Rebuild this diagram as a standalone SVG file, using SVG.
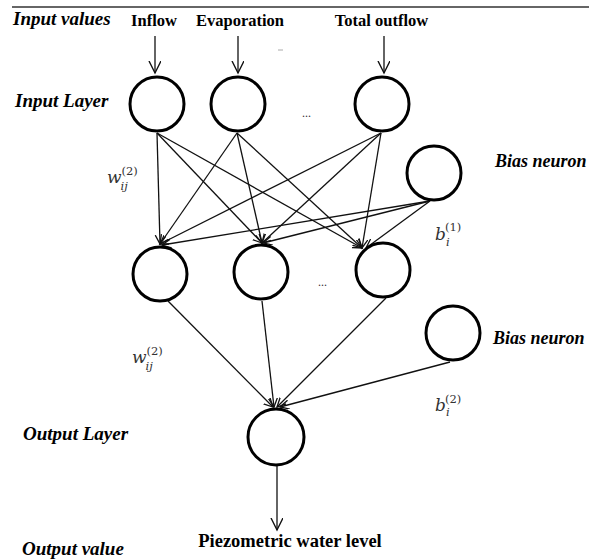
<svg xmlns="http://www.w3.org/2000/svg" width="589" height="560" viewBox="0 0 589 560">
<style>
  .node { fill: #ffffff; stroke: #000000; stroke-width: 3; }
  .conn { stroke: #111111; stroke-width: 1.3; fill: none; }
  .lbl { font-family: "Liberation Serif", "Times New Roman", serif; font-weight: bold; font-style: italic; font-size: 19px; fill: #000; }
  .bias { font-size: 18px; }
  .in { font-family: "Liberation Serif", "Times New Roman", serif; font-weight: bold; font-size: 16.5px; fill: #000; text-anchor: middle; }
  .m { font-family: "DejaVu Serif", serif; font-style: italic; font-size: 17px; fill: #333; }
  .ms { font-family: "DejaVu Serif", serif; font-size: 11.5px; fill: #333; }
  .msi { font-family: "DejaVu Serif", serif; font-style: italic; font-size: 11.5px; fill: #333; }
  .dots { font-family: "Liberation Serif", serif; font-size: 12px; fill: #333; }
</style>
<defs>
  <marker id="big" markerUnits="userSpaceOnUse" markerWidth="14" markerHeight="14" refX="12" refY="6" orient="auto">
    <path d="M0,0 L12,6 L0,12" fill="none" stroke="#111" stroke-width="1.4"/>
  </marker>
  <marker id="small" markerUnits="userSpaceOnUse" markerWidth="11" markerHeight="11" refX="9" refY="4.5" orient="auto">
    <path d="M0,0 L9,4.5 L0,9" fill="none" stroke="#111" stroke-width="1.3"/>
  </marker>
</defs>
<rect width="589" height="560" fill="#ffffff"/>
<line x1="12" y1="7" x2="589" y2="7" stroke="#333" stroke-width="1.5"/>
<line x1="278" y1="50" x2="283" y2="50" stroke="#aaa" stroke-width="1"/>

<g id="connectors">
  <line class="conn" x1="155" y1="36" x2="155" y2="73" marker-end="url(#big)"/>
  <line class="conn" x1="238" y1="36" x2="238" y2="73" marker-end="url(#big)"/>
  <line class="conn" x1="384" y1="36" x2="384" y2="73" marker-end="url(#big)"/>
  <line class="conn" x1="157" y1="133" x2="160" y2="244" marker-end="url(#small)"/>
  <line class="conn" x1="157" y1="133" x2="262" y2="243" marker-end="url(#small)"/>
  <line class="conn" x1="157" y1="133" x2="362" y2="248" marker-end="url(#small)"/>
  <line class="conn" x1="237" y1="133" x2="160" y2="244" marker-end="url(#small)"/>
  <line class="conn" x1="237" y1="133" x2="262" y2="243" marker-end="url(#small)"/>
  <line class="conn" x1="237" y1="133" x2="362" y2="248" marker-end="url(#small)"/>
  <line class="conn" x1="381" y1="133" x2="160" y2="244" marker-end="url(#small)"/>
  <line class="conn" x1="381" y1="133" x2="262" y2="243" marker-end="url(#small)"/>
  <line class="conn" x1="381" y1="133" x2="362" y2="248" marker-end="url(#small)"/>
  <line class="conn" x1="430" y1="201" x2="162" y2="245" marker-end="url(#small)"/>
  <line class="conn" x1="430" y1="201" x2="263" y2="243" marker-end="url(#small)"/>
  <line class="conn" x1="430" y1="201" x2="366" y2="248" marker-end="url(#small)"/>
  <line class="conn" x1="168" y1="301" x2="273" y2="407" marker-end="url(#small)"/>
  <line class="conn" x1="262" y1="301" x2="274" y2="407" marker-end="url(#small)"/>
  <line class="conn" x1="386" y1="298" x2="277" y2="407" marker-end="url(#small)"/>
  <line class="conn" x1="450" y1="362" x2="280" y2="407" marker-end="url(#small)"/>
  <line class="conn" x1="277" y1="466" x2="277" y2="530" marker-end="url(#big)"/>
</g>

<g id="in1"><circle class="node" cx="157" cy="104" r="27"/></g>
<g id="in2"><circle class="node" cx="238" cy="104" r="27"/></g>
<g id="in3"><circle class="node" cx="382" cy="104" r="27"/></g>
<g id="bias1"><circle class="node" cx="434" cy="173" r="27"/></g>
<g id="h1"><circle class="node" cx="160" cy="274" r="27"/></g>
<g id="h2"><circle class="node" cx="261" cy="272" r="27"/></g>
<g id="h3"><circle class="node" cx="383" cy="270" r="27"/></g>
<g id="bias2"><circle class="node" cx="453" cy="333" r="27"/></g>
<g id="out"><circle class="node" cx="276" cy="437" r="28"/></g>

<g id="labels">
  <text class="lbl" x="13" y="25">Input values</text>
  <text class="lbl" x="15" y="107">Input Layer</text>
  <text class="lbl bias" x="495" y="167">Bias neuron</text>
  <text class="lbl bias" x="493" y="344">Bias neuron</text>
  <text class="lbl" x="23" y="440">Output Layer</text>
  <text class="lbl" x="22" y="555">Output value</text>
  <text class="in" x="154" y="26">Inflow</text>
  <text class="in" x="240" y="26">Evaporation</text>
  <text class="in" x="381.5" y="26">Total outflow</text>
  <text class="in" x="290" y="547" style="font-size:18.5px">Piezometric water level</text>
  <text class="dots" x="302" y="117">...</text>
  <text class="dots" x="318" y="286">...</text>
  <text class="m" x="107" y="183">w</text>
  <text class="ms" x="121.5" y="175">(2)</text>
  <text class="msi" x="120.5" y="190">ij</text>
  <text class="m" x="132" y="363">w</text>
  <text class="ms" x="146.5" y="355">(2)</text>
  <text class="msi" x="145.5" y="370">ij</text>
  <text class="m" x="435" y="240">b</text>
  <text class="ms" x="445" y="231">(1)</text>
  <text class="msi" x="446" y="246">i</text>
  <text class="m" x="435" y="411">b</text>
  <text class="ms" x="445" y="403">(2)</text>
  <text class="msi" x="446" y="416">i</text>
</g>
</svg>
